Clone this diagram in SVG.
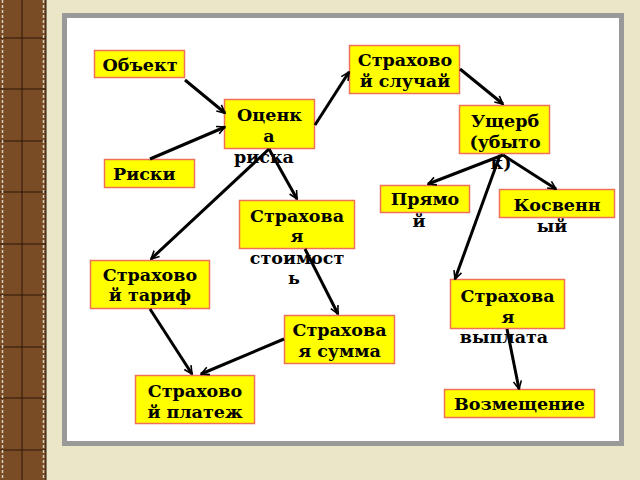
<svg xmlns="http://www.w3.org/2000/svg" width="640" height="480" viewBox="0 0 640 480">
<defs>
<style>
.box{fill:#FFFF00;stroke:#F0705A;stroke-width:1.5}
.t{font-family:"DejaVu Serif",serif;font-weight:bold;font-size:17.5px;fill:#000;text-anchor:middle}
.c{stroke:#000;stroke-width:3;fill:none;marker-end:url(#ah)}
.grid{stroke:#2a1608;stroke-width:1}
</style>
<marker id="ah" viewBox="0 0 10 10" refX="9" refY="5" markerWidth="10" markerHeight="10" markerUnits="userSpaceOnUse" orient="auto">
<path d="M1,1 L9,5 L1,9" fill="none" stroke="#000" stroke-width="1.6"/>
</marker>
</defs>
<rect width="640" height="480" fill="#ECE6C8"/>
<g id="strip">
<rect x="0" y="0" width="46" height="480" fill="#7A4C26"/>
<path d="M22,0V480 M0,38H46 M0,89H46 M0,141H46 M0,192H46 M0,244H46 M0,295H46 M0,347H46 M0,398H46 M0,450H46" class="grid"/>
<path d="M2.5,0V480 M43.5,0V480" stroke="#d8d0c0" stroke-width="1.5" stroke-dasharray="3,2"/>
<path d="M46,0V480" stroke="#2a1608" stroke-width="1"/>
</g>
<rect x="62" y="13" width="562" height="433" fill="#999999"/>
<rect x="67" y="18" width="552" height="423" fill="#FFFFFF"/>
<g id="n-obekt"><rect class="box" x="94.5" y="50.5" width="90" height="27"/><text class="t" x="140" y="71">Объект</text></g>
<g id="n-riski"><rect class="box" x="104.5" y="159.5" width="90" height="28"/><text class="t" x="113" y="180" style="text-anchor:start">Риски</text></g>
<g id="n-ocenka"><rect class="box" x="224.5" y="99.5" width="90" height="49"/><text class="t" x="269.5" y="121">Оценк</text><text class="t" x="269" y="142">а</text><text class="t" x="264" y="163">риска</text></g>
<g id="n-sluchai"><rect class="box" x="349.5" y="45.5" width="110" height="48"/><text class="t" x="405" y="66">Страхово</text><text class="t" x="405" y="87">й случай</text></g>
<g id="n-usherb"><rect class="box" x="459.5" y="105.5" width="90" height="48"/><text class="t" x="505" y="127">Ущерб</text><text class="t" x="505" y="148">(убыто</text><text class="t" x="501" y="169">к)</text></g>
<g id="n-pryamoi"><rect class="box" x="380.5" y="185.5" width="89" height="27"/><text class="t" x="425" y="205">Прямо</text><text class="t" x="419" y="227">й</text></g>
<g id="n-kosvenny"><rect class="box" x="499.5" y="189.5" width="115" height="28"/><text class="t" x="557" y="211">Косвенн</text><text class="t" x="552" y="232">ый</text></g>
<g id="n-stoimost"><rect class="box" x="239.5" y="200.5" width="115" height="48"/><text class="t" x="297" y="222">Страхова</text><text class="t" x="297" y="242">я</text><text class="t" x="297" y="264">стоимост</text><text class="t" x="294" y="284">ь</text></g>
<g id="n-tarif"><rect class="box" x="90.5" y="260.5" width="119" height="48"/><text class="t" x="150" y="281">Страхово</text><text class="t" x="150" y="301">й тариф</text></g>
<g id="n-vyplata"><rect class="box" x="450.5" y="279.5" width="114" height="49"/><text class="t" x="507.5" y="302">Страхова</text><text class="t" x="508" y="323">я</text><text class="t" x="504" y="343">выплата</text></g>
<g id="n-summa"><rect class="box" x="284.5" y="315.5" width="110" height="48"/><text class="t" x="339.5" y="336">Страхова</text><text class="t" x="339.5" y="357">я сумма</text></g>
<g id="n-platezh"><rect class="box" x="135.5" y="375.5" width="119" height="48"/><text class="t" x="195" y="397">Страхово</text><text class="t" x="195" y="418">й платеж</text></g>
<g id="n-vozmeshenie"><rect class="box" x="444.5" y="389.5" width="150" height="28"/><text class="t" x="519.5" y="410">Возмещение</text></g>
<g id="connectors">
<path class="c" d="M185,80 L225,113"/>
<path class="c" d="M150,159 L225,127"/>
<path class="c" d="M315,125 L349,72"/>
<path class="c" d="M460,69 L503,104"/>
<path class="c" d="M269,149 L151,259"/>
<path class="c" d="M269,149 L297,199"/>
<path class="c" d="M503,155 L428,184"/>
<path class="c" d="M503,155 L556,189"/>
<path class="c" d="M500,155 L455,279"/>
<path class="c" d="M305,249 L338,314"/>
<path class="c" d="M150,309 L192,374"/>
<path class="c" d="M284,339 L201,374"/>
<path class="c" d="M507,329 L519,389"/>
</g>
</svg>
